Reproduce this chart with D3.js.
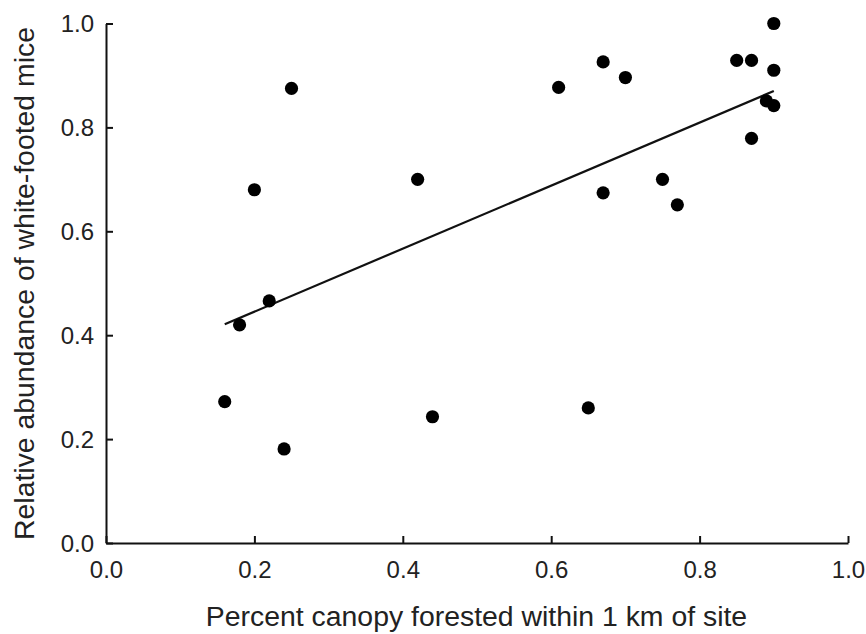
<!DOCTYPE html>
<html>
<head>
<meta charset="utf-8">
<script src="https://cdn.jsdelivr.net/npm/d3@7"></script>
<style>
  body { margin: 0; background: #fff; }
  text { font-family: "Liberation Sans", Arial, sans-serif; fill: #222; }
</style>
</head>
<body>
<svg id="chart" width="866" height="634"></svg>
<script>
// canopy cover (x) vs relative mouse abundance (y)
var canopy = [0.16, 0.18, 0.20, 0.22, 0.24, 0.25, 0.42, 0.44, 0.61, 0.65, 0.67,
  0.67, 0.70, 0.75, 0.77, 0.85, 0.87, 0.87, 0.89, 0.90, 0.90, 0.90]
var abundance = [0.272, 0.420, 0.680, 0.466, 0.181, 0.875, 0.700, 0.243, 0.877, 0.260, 0.926,
  0.674, 0.896, 0.700, 0.651, 0.929, 0.929, 0.779, 0.851, 1.000, 0.910, 0.842]
// fitted line end points
var fitX = [0.16, 0.90]
var fitY = [0.421, 0.870]
var xTicks = [0, 0.2, 0.4, 0.6, 0.8, 1.0]
var yTicks = [0, 0.2, 0.4, 0.6, 0.8, 1.0]

var svg = d3.select('#chart')
var plotL = 106, plotR = 848, plotT = 23.5, plotB = 543

var x = d3.scaleLinear().domain([0, 1]).range([plotL, plotR])
var y = d3.scaleLinear().domain([0, 1]).range([plotB, plotT])

var xAxis = svg.append('g')
  .attr('transform', 'translate(0,' + plotB + ')')
  .call(d3.axisBottom(x).tickValues(xTicks).tickFormat(d3.format('.1f')).tickSizeInner(-7).tickSizeOuter(0))
var yAxis = svg.append('g')
  .attr('transform', 'translate(' + plotL + ',0)')
  .call(d3.axisLeft(y).tickValues(yTicks).tickFormat(d3.format('.1f')).tickSizeInner(-7).tickSizeOuter(0))

;[xAxis, yAxis].forEach(function (ax) {
  ax.select('.domain').attr('stroke', '#111').attr('stroke-width', 2)
  ax.selectAll('.tick line').attr('stroke', '#111').attr('stroke-width', 2)
  ax.selectAll('.tick text').style('font-size', '24px').attr('fill', '#222')
})
xAxis.selectAll('.tick text').attr('y', 35).attr('dy', 0)
yAxis.selectAll('.tick text').attr('x', -12).attr('dy', '0.35em')

// regression line
svg.append('line')
  .attr('x1', x(fitX[0])).attr('y1', y(fitY[0]))
  .attr('x2', x(fitX[1])).attr('y2', y(fitY[1]))
  .attr('stroke', '#111').attr('stroke-width', 2.2)

svg.append('g').selectAll('circle')
  .data(canopy)
  .join('circle')
  .attr('cx', function (d) { return x(d) })
  .attr('cy', function (d, i) { return y(abundance[i]) })
  .attr('r', 6.6)
  .attr('fill', '#000')

svg.append('text')
  .attr('x', 476.5)
  .attr('y', 626)
  .attr('text-anchor', 'middle')
  .style('font-size', '28.4px')
  .text('Percent canopy forested within 1 km of site')

svg.append('text')
  .attr('transform', 'translate(33.5,283.5) rotate(-90)')
  .attr('text-anchor', 'middle')
  .style('font-size', '28.4px')
  .text('Relative abundance of white-footed mice')
</script>
</body>
</html>
